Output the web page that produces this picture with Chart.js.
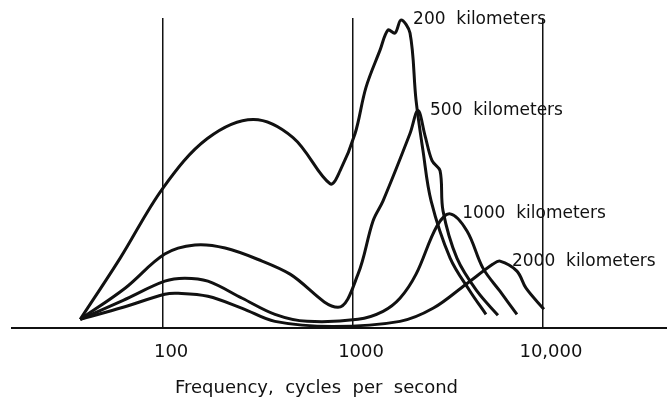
<!DOCTYPE html>
<html>
<head>
<meta charset="utf-8">
<script src="https://cdn.jsdelivr.net/npm/chart.js@4"></script>
<style>
  body { margin: 0; background: #fff; }
  canvas { display: block; }
</style>
</head>
<body>
<canvas id="spectrumChart" width="667" height="402"></canvas>
<script>
// frequencies (cycles per second) and relative amplitude
const freq200 = [36.6, 59.4, 100, 171, 298, 483, 757, 855, 1025, 1170, 1387, 1528, 1663, 1790, 1995, 2147, 2335, 2576, 3245, 4131, 5012];
const level200 = [9, 70, 140, 189, 208, 190, 144, 157, 194, 240, 277, 297, 294, 307, 294, 227, 177, 127, 70, 37, 14];

const freq500 = [36.6, 63, 102, 147, 212, 332, 466, 833, 1062, 1274, 1439, 1995, 2198, 2393, 2606, 2871, 2977, 3524, 4498, 5794];
const level500 = [9, 40, 74, 83, 80, 67, 54, 21, 54, 107, 127, 194, 217, 192, 167, 157, 117, 70, 37, 13];

const freq1000 = [36.6, 61.6, 102, 130, 172, 261, 388, 573, 1062, 1439, 1766, 2147, 2766, 3245, 3981, 4831, 5938, 7295];
const level1000 = [9, 28, 47, 50, 47, 30, 14, 7, 9, 17, 30, 54, 102, 114, 97, 60, 37, 14];

const freq2000 = [36.6, 61.6, 102, 120, 172, 261, 388, 785, 1766, 2636, 3936, 5458, 5938, 7295, 8147, 10116];
const level2000 = [9, 21, 34, 35, 32, 20, 7, 2, 7, 20, 44, 64, 67, 57, 40, 19];

const curveNames = ['200  kilometers', '500  kilometers', '1000  kilometers', '2000  kilometers'];
const tickValues = [100, 1000, 10000];
const axisTitle = 'Frequency,  cycles  per  second';

const ink = '#111';

function toPoints(xs, ys) {
    return xs.map((x, i) => ({ x: x, y: ys[i] }));
}

const series = [
    toPoints(freq200, level200),
    toPoints(freq500, level500),
    toPoints(freq1000, level1000),
    toPoints(freq2000, level2000)
];

// label each curve just to the right of its highest point
const curveLabels = {
    id: 'curveLabels',
    afterDatasetsDraw(chart) {
        const ctx = chart.ctx;
        ctx.save();
        ctx.fillStyle = ink;
        ctx.font = '17px "DejaVu Sans"';
        ctx.textBaseline = 'middle';
        chart.data.datasets.forEach((ds, i) => {
            const meta = chart.getDatasetMeta(i);
            let top = 0;
            ds.data.forEach((p, j) => { if (p.y > ds.data[top].y) top = j; });
            const pt = meta.data[top];
            ctx.fillText(curveNames[i], pt.x + 12, pt.y);
        });
        ctx.restore();
    }
};

// axis title sits a little left of centre in the original
const axisCaption = {
    id: 'axisCaption',
    afterDraw(chart) {
        const ctx = chart.ctx;
        ctx.save();
        ctx.fillStyle = ink;
        ctx.font = '18px "DejaVu Sans"';
        ctx.textAlign = 'center';
        ctx.textBaseline = 'middle';
        ctx.fillText(axisTitle, chart.width / 2 - 17, chart.chartArea.bottom + 60);
        ctx.restore();
    }
};

new Chart(document.getElementById('spectrumChart').getContext('2d'), {
    type: 'line',
    data: {
        datasets: series.map((pts, i) => ({
            label: curveNames[i],
            data: pts,
            borderColor: ink,
            borderWidth: 3,
            pointRadius: 0,
            fill: false,
            tension: 0.35
        }))
    },
    options: {
        responsive: false,
        animation: false,
        layout: { padding: { left: 12, right: 0, top: 18, bottom: 26 } },
        plugins: {
            legend: { display: false },
            tooltip: { enabled: false }
        },
        scales: {
            x: {
                type: 'logarithmic',
                min: 16,
                max: 45000,
                afterBuildTicks: function(scale) {
                    scale.ticks = tickValues.map(v => ({ value: v }));
                },
                grid: { color: ink, lineWidth: 1.5, drawTicks: false },
                border: { display: true, color: ink, width: 2 },
                ticks: {
                    color: ink,
                    padding: 13,
                    labelOffset: 8,
                    maxRotation: 0,
                    autoSkip: false,
                    font: { family: 'DejaVu Sans', size: 18 },
                    callback: function(value) {
                        return value >= 10000 ? value.toLocaleString('en-US') : String(value);
                    }
                }
            },
            y: {
                display: false,
                min: 0,
                max: 309
            }
        }
    },
    plugins: [curveLabels, axisCaption]
});
</script>
</body>
</html>
